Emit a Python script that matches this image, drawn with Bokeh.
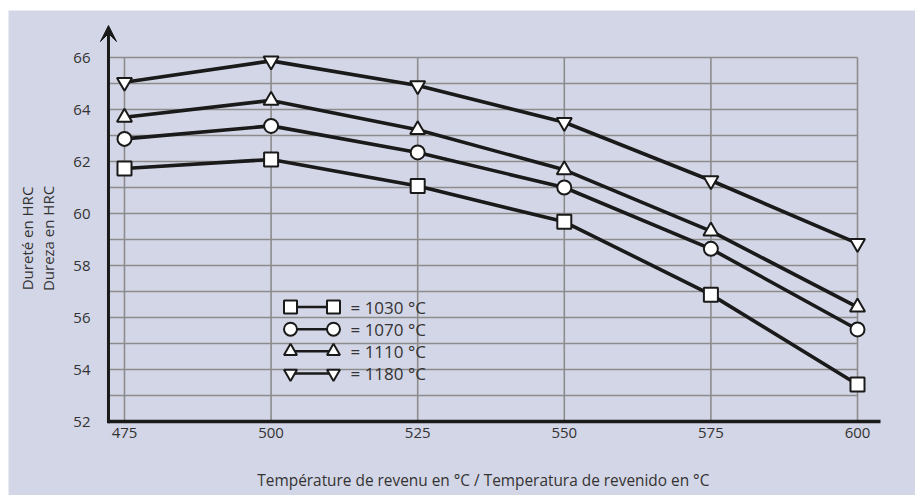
import math
from bokeh.plotting import figure
from bokeh.models import Range1d, Label, Arrow, VeeHead
from bokeh.embed import file_html
from bokeh.resources import INLINE
from bokeh.core.properties import value

# ---- data ----
temps = [475, 500, 525, 550, 575, 600]
hrc_1030 = [61.73, 62.08, 61.06, 59.68, 56.88, 53.42]
hrc_1070 = [62.87, 63.37, 62.35, 61.00, 58.64, 55.54]
hrc_1110 = [63.70, 64.35, 63.22, 61.68, 59.32, 56.40]
hrc_1180 = [65.05, 65.87, 64.92, 63.51, 61.27, 58.85]
series = [hrc_1030, hrc_1070, hrc_1110, hrc_1180]
series_labels = ["= 1030 °C", "= 1070 °C", "= 1110 °C", "= 1180 °C"]
markers = ["square", "circle", "triangle", "inverted_triangle"]
marker_sizes = [14, 14, 15, 15]
y_ticks = [52, 54, 56, 58, 60, 62, 64, 66]
grid_y = list(range(52, 67))
x_ticks = temps
x_title = "Température de revenu en °C / Temperatura de revenido en °C"
y_title_1 = "Dureté en HRC"
y_title_2 = "Dureza en HRC"

# ---- layout constants (frame = whole canvas) ----
X_START, X_END = 455.22, 609.89
Y_START, Y_END = 49.154, 67.808
AXIS_X = 472.27
X_AXIS_END = 603.9
ARROW_TIP = 67.23
BG = "#d3d6e6"
INK = "#1a1a1a"
TXT = "#333333"
GRID = "#8c8c8c"
FONT = "Open Sans"

p = figure(width=907, height=485, margin=(10, 0, 0, 8),
           x_range=Range1d(X_START, X_END), y_range=Range1d(Y_START, Y_END),
           output_backend="svg", toolbar_location=None,
           min_border_left=0, min_border_right=0,
           min_border_top=0, min_border_bottom=0)
p.background_fill_color = BG
p.border_fill_color = BG
p.outline_line_color = None
p.xgrid.visible = False
p.ygrid.visible = False

# grid lines derived from tick lists
hy = [g for g in grid_y if g != grid_y[0]]
p.segment(x0=[AXIS_X] * len(hy), y0=hy, x1=[x_ticks[-1]] * len(hy), y1=hy,
          line_color=GRID, line_width=1.6)
p.segment(x0=x_ticks, y0=[grid_y[0]] * len(x_ticks), x1=x_ticks,
          y1=[grid_y[-1]] * len(x_ticks), line_color=GRID, line_width=1.6)

# y axis arrow
p.add_layout(Arrow(end=VeeHead(size=16, fill_color=INK, line_color=INK, line_width=1),
                   x_start=AXIS_X, y_start=grid_y[0] - 0.07,
                   x_end=AXIS_X, y_end=ARROW_TIP,
                   line_color=INK, line_width=3))

# data lines then markers
for vals in series:
    p.line(temps, vals, line_color=INK, line_width=3.6)
for vals, m, s in zip(series, markers, marker_sizes):
    p.scatter(temps, vals, marker=m, size=s, fill_color="white",
              line_color=INK, line_width=2)

# legend (drawn)
LEG_X = [503.31, 510.64]
LEG_TEXT_X = 513.54
LEG_Y_TOP = 56.40
LEG_DY = 0.85
for i, (m, lab) in enumerate(zip(markers, series_labels)):
    yy = LEG_Y_TOP - i * LEG_DY
    p.segment(x0=[LEG_X[0]], y0=[yy], x1=[LEG_X[1]], y1=[yy], line_color=INK, line_width=2.5)
    p.scatter(LEG_X, [yy, yy], marker=m, size=13, fill_color="white",
              line_color=INK, line_width=2)
    p.text(x=[LEG_TEXT_X], y=[yy], text=[lab], text_font=value(FONT),
           text_font_size="17px", text_color=TXT, text_baseline="middle",
           text_align="left")

# axes (fixed inside the frame)
for ax in (p.xaxis, p.yaxis):
    ax.major_tick_line_color = None
    ax.minor_tick_line_color = None
    ax.major_tick_out = 0
    ax.major_tick_in = 0
    ax.major_label_text_font = FONT
    ax.major_label_text_font_size = "15px"
    ax.major_label_text_color = TXT
p.xaxis.ticker = x_ticks
p.yaxis.ticker = y_ticks
p.xaxis.fixed_location = grid_y[0]
p.yaxis.fixed_location = AXIS_X
p.xaxis.bounds = (AXIS_X, X_AXIS_END)
p.xaxis.axis_line_color = INK
p.xaxis.axis_line_width = 3.5
p.yaxis.axis_line_color = None
p.xaxis.major_label_standoff = 6
p.yaxis.major_label_standoff = 18

# axis titles
p.add_layout(Label(x=536.2, y=49.73, text=x_title, text_font=FONT,
                   text_font_size="15.4px", text_color=TXT,
                   text_align="center", text_baseline="middle"))
p.add_layout(Label(x=458.46, y=59.04, text=y_title_1, angle=math.pi / 2,
                   text_font=FONT, text_font_size="15px", text_color=TXT,
                   text_align="center", text_baseline="middle"))
p.add_layout(Label(x=462.04, y=59.04, text=y_title_2, angle=math.pi / 2,
                   text_font=FONT, text_font_size="15px", text_color=TXT,
                   text_align="center", text_baseline="middle"))

html = file_html(p, INLINE)
html = html.replace("<head>", "<head><style>html,body{overflow:hidden}</style>", 1)
open("out.html", "w").write(html)
